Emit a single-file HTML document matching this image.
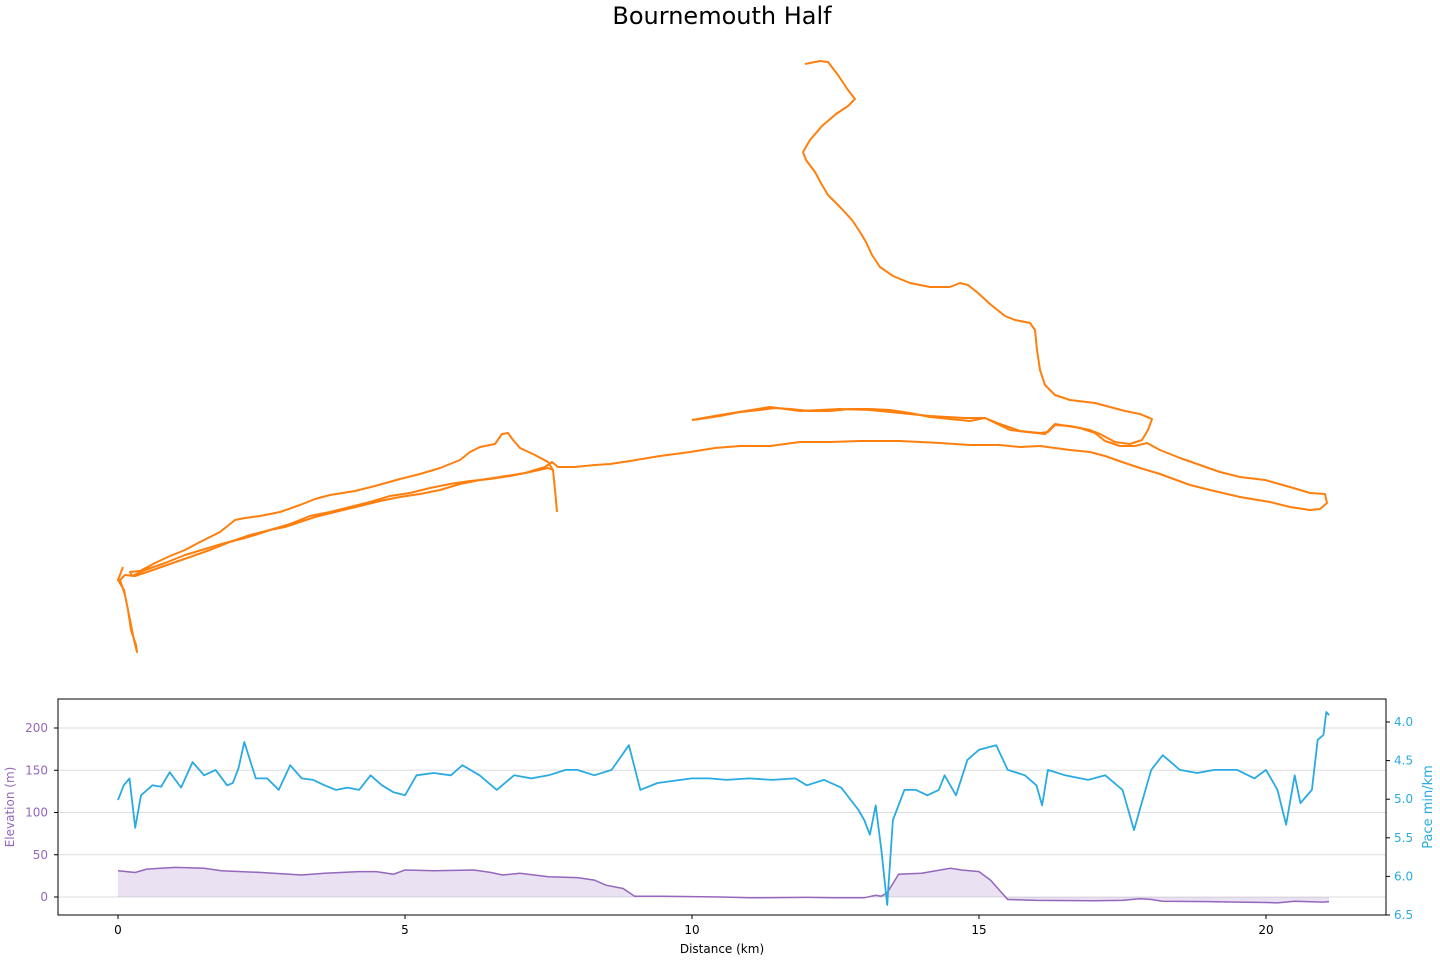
<!DOCTYPE html>
<html><head><meta charset="utf-8"><style>
body{margin:0;background:#fff;font-family:"Liberation Sans","DejaVu Sans",sans-serif}
svg text{font-family:"DejaVu Sans","Liberation Sans",sans-serif}
</style></head><body>
<svg id="chart" width="1440" height="960" xmlns="http://www.w3.org/2000/svg">
<text x="722" y="24" font-size="24" text-anchor="middle">Bournemouth Half</text>
<g id="route" fill="none" stroke="#ff7f0e" stroke-width="2" stroke-linejoin="round"></g>
<g id="prof"></g>
</svg>
<script>
const elevKm=[0,0.3,0.5,1.0,1.5,1.8,2.5,3.2,3.6,4.2,4.5,4.8,5.0,5.5,6.2,6.5,6.7,7.0,7.5,8.0,8.3,8.5,8.8,9.0,9.5,10.0,10.5,11,12,12.5,13.0,13.2,13.3,13.4,13.6,14.0,14.5,14.7,15.0,15.2,15.5,16,17,17.5,17.8,18.0,18.2,19,19.5,20,20.2,20.5,21,21.1];
const elevM=[31,29,33,35,34,31,29,26,28,30,30,27,32,31,32,29,26,28,24,23,20,14,10,1,1,0.5,0,-1,-0.5,-1,-1,2,1,5,27,28,34,32,30,20,-3,-4,-4.5,-4,-2,-3,-5,-5.5,-6,-6.5,-7,-5,-6,-5.5];
const paceKm=[0,0.1,0.2,0.3,0.4,0.6,0.75,0.9,1.1,1.3,1.5,1.7,1.9,2.0,2.1,2.2,2.4,2.6,2.8,3.0,3.2,3.4,3.6,3.8,4.0,4.2,4.4,4.6,4.8,5.0,5.2,5.5,5.8,6.0,6.3,6.6,6.9,7.2,7.5,7.8,8.0,8.3,8.6,8.9,9.1,9.4,9.8,10.0,10.3,10.6,11.0,11.4,11.8,12.0,12.3,12.6,12.9,13.0,13.1,13.2,13.3,13.4,13.5,13.7,13.9,14.1,14.3,14.4,14.6,14.8,15.0,15.3,15.5,15.8,16.0,16.1,16.2,16.5,16.9,17.2,17.5,17.7,17.8,18.0,18.2,18.5,18.8,19.1,19.5,19.8,20.0,20.2,20.35,20.5,20.6,20.8,20.9,21.0,21.05,21.1];
const paceMin=[5.01,4.82,4.73,5.37,4.95,4.82,4.84,4.65,4.85,4.52,4.69,4.62,4.82,4.79,4.60,4.26,4.73,4.73,4.88,4.56,4.73,4.75,4.82,4.88,4.85,4.88,4.69,4.82,4.91,4.95,4.69,4.66,4.69,4.56,4.69,4.88,4.69,4.73,4.69,4.62,4.62,4.69,4.62,4.30,4.88,4.79,4.75,4.73,4.73,4.75,4.73,4.75,4.73,4.82,4.75,4.85,5.14,5.27,5.46,5.08,5.66,6.37,5.27,4.88,4.88,4.95,4.88,4.69,4.95,4.49,4.36,4.30,4.62,4.69,4.82,5.08,4.62,4.69,4.75,4.69,4.88,5.40,5.14,4.62,4.43,4.62,4.66,4.62,4.62,4.73,4.62,4.88,5.33,4.69,5.05,4.88,4.23,4.17,3.87,3.91];
const xTicks=[0,5,10,15,20];
const elevTicks=[0,50,100,150,200];
const paceTicks=[4.0,4.5,5.0,5.5,6.0,6.5];

const NS='http://www.w3.org/2000/svg';
function mk(tag,attrs,parent,txt){const e=document.createElementNS(NS,tag);for(const k in attrs)e.setAttribute(k,attrs[k]);if(txt!==undefined)e.textContent=txt;parent.appendChild(e);return e;}
// route map traces (geographic drawing)
const route=document.getElementById('route');
const traces=[
"805,64 820,61 828,62 838,75 848,90 855,99 848,106 836,114 822,126 810,140 803,152 806,160 815,172 822,185 828,195 840,207 852,220 860,232 866,242 872,255 880,267 893,276 910,283 930,287 950,287 960,283 968,285 978,293 990,304 1005,316 1015,320 1030,323 1035,330 1037,350 1040,370 1045,385 1055,395 1070,400 1095,403 1110,407 1125,411 1140,414 1152,419 1148,430 1142,440 1130,444 1115,442 1100,434 1090,430 1070,426 1055,425 1048,432 1040,433 1020,431 1000,424 985,418 970,421 950,419 930,417 910,413 890,410 870,409 850,409 830,411 810,411 790,409 775,408 760,410 740,412 720,416 700,419 692,420",
"692,420 720,415 770,407 800,411 840,409 870,410 900,413 930,416 965,418 985,418 1010,430 1045,434 1055,424 1080,428 1095,433 1105,441 1120,446 1135,446 1147,443 1160,450 1180,458 1200,465 1220,472 1240,477 1265,480 1290,487 1310,493 1325,494 1327,503 1320,509 1310,510 1290,507 1270,502 1240,497 1210,490 1190,485 1160,474 1140,468 1125,463 1105,456 1090,452 1070,450 1040,446 1020,447 1000,445 970,445 940,443 900,441 860,441 830,442 800,442 770,446 740,446 715,448 690,452 660,456 630,461 610,464 595,465 575,467 558,467 552,462 545,467 525,473 500,477 480,480 460,484 440,490 420,494 400,497 380,501 360,506 335,512 315,517 300,522 285,527 270,530 255,535 245,538 225,543 205,549 185,555 165,563 145,570 132,576 130,572 140,571 155,563 170,556 185,550 200,542 210,537 220,532 235,520 245,518 260,516 280,512 300,505 315,499 330,495 355,491 375,486 400,479 420,474 440,468 460,460 470,452 480,447 495,444 502,434 508,433 513,440 520,448 535,455 548,462 553,470 555,490 557,512",
"123,567 118,580 124,590 128,610 131,630 136,645 137,652 134,640 130,620 125,595 120,580 125,575 135,576 150,571 170,564 190,557 210,550 230,542 250,535 270,530 290,524 310,516 330,512 350,507 370,502 390,496 410,493 430,488 450,484 470,481 490,479 510,476 530,472 548,468 553,470"];
traces.forEach((p,i)=>{const e=mk('polyline',{points:p},route);

});

// profile panel
const L=58,R=1386,T=699,B=915;
const xS=v=>118+v*57.4;
const yE=v=>897-v*0.845;
const yP=v=>722+(v-4)*77.2;
const g=document.getElementById('prof');
elevTicks.forEach(t=>{const l=mk('line',{x1:L,x2:R,y1:yE(t),y2:yE(t),stroke:'#dddddd','stroke-width':1},g);


const tx=mk('text',{x:L-10,y:yE(t)+4,'font-size':12,fill:'#9467bd','text-anchor':'end'},g,String(t));


mk('line',{x1:L-4,x2:L,y1:yE(t),y2:yE(t),stroke:'#000'},g);});
// elevation area
let ep=elevKm.map((k,i)=>xS(k).toFixed(1)+','+yE(elevM[i]).toFixed(1));
const area=mk('polygon',{points:xS(elevKm[0])+','+yE(0)+' '+ep.join(' ')+' '+xS(elevKm[elevKm.length-1])+','+yE(0),fill:'#9467bd','fill-opacity':0.2},g);


const el=mk('polyline',{points:ep.join(' '),fill:'none',stroke:'#9467bd','stroke-width':1.5},g);


const pl=mk('polyline',{points:paceKm.map((k,i)=>xS(k).toFixed(1)+','+yP(paceMin[i]).toFixed(1)).join(' '),fill:'none',stroke:'#29abe2','stroke-width':1.8,'stroke-linejoin':'round'},g);


const fr=mk('rect',{x:L,y:T,width:R-L,height:B-T,fill:'none',stroke:'#000','stroke-width':1},g);


xTicks.forEach(t=>{mk('line',{x1:xS(t),x2:xS(t),y1:B,y2:B+4,stroke:'#000'},g);
const tx=mk('text',{x:xS(t),y:B+19,'font-size':12,'text-anchor':'middle'},g,String(t));

});
paceTicks.forEach(t=>{mk('line',{x1:R,x2:R+4,y1:yP(t),y2:yP(t),stroke:'#000'},g);
const tx=mk('text',{x:R+8,y:yP(t)+4,'font-size':12,fill:'#29abe2'},g,t.toFixed(1));

});
const xt=mk('text',{x:722,y:953,'font-size':12,'text-anchor':'middle'},g,'Distance (km)');


const yt=mk('text',{x:14,y:807,'font-size':12,fill:'#9467bd','text-anchor':'middle',transform:'rotate(-90 14 807)'},g,'Elevation (m)');


const pt=mk('text',{x:1432,y:807,'font-size':13,fill:'#29abe2','text-anchor':'middle',transform:'rotate(-90 1432 807)'},g,'Pace min/km');


</script>
</body></html>
